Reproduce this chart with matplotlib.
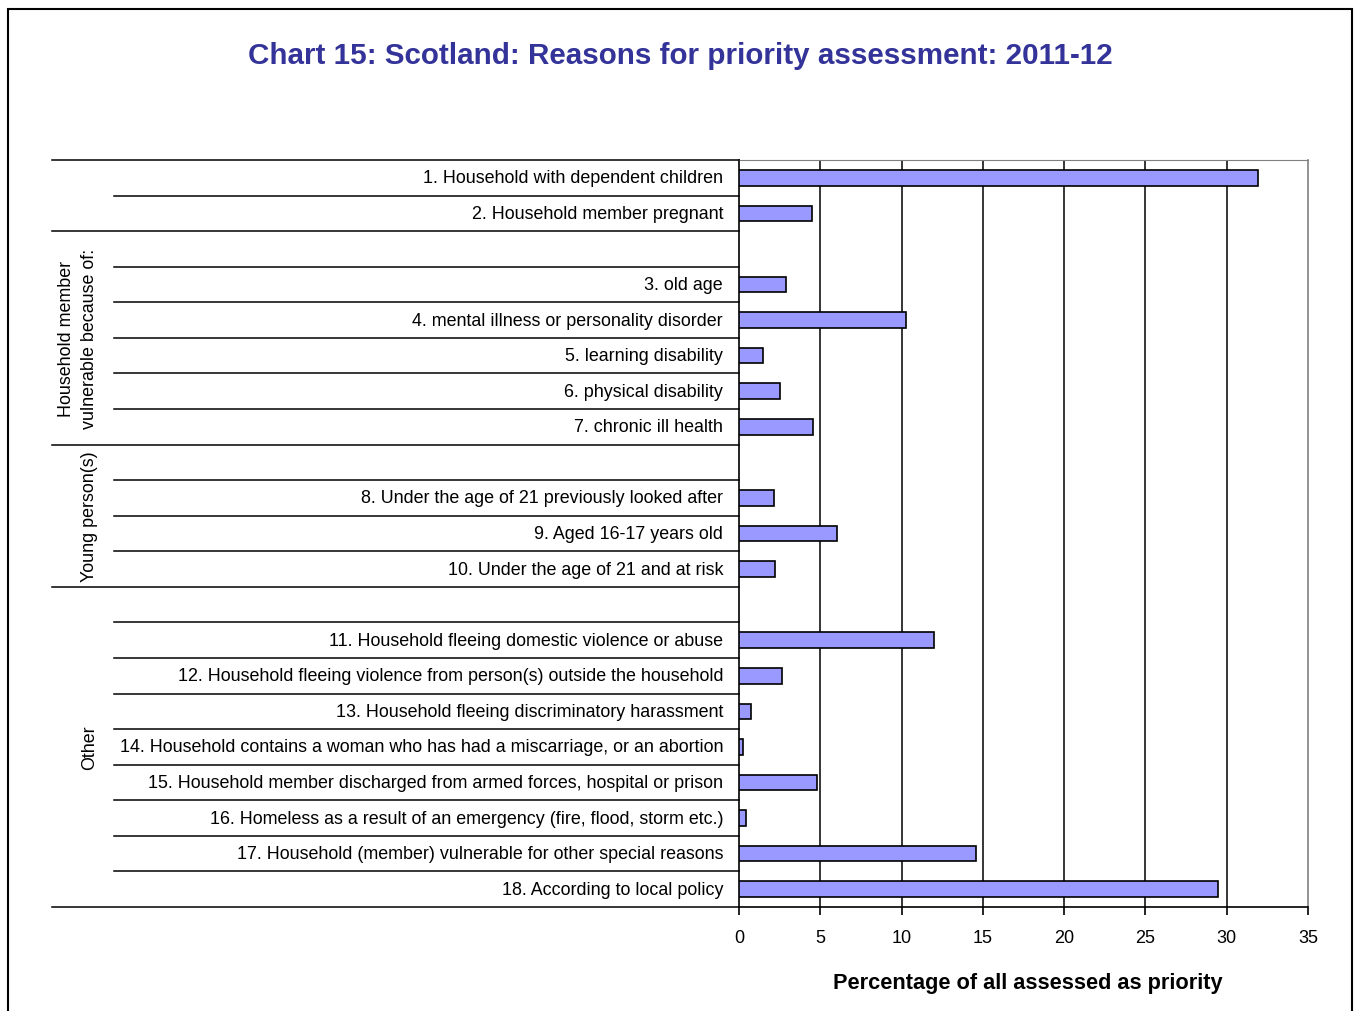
import matplotlib
matplotlib.use("Agg")
import matplotlib.pyplot as plt
from matplotlib.lines import Line2D
from matplotlib.patches import Rectangle
from matplotlib.transforms import blended_transform_factory

plt.rcParams["font.family"] = ["Liberation Sans", "DejaVu Sans"]

# ---------- data (rows top to bottom; None = spacer row) ----------
labels = [
    "1. Household with dependent children",
    "2. Household member pregnant",
    None,
    "3. old age",
    "4. mental illness or personality disorder",
    "5. learning disability",
    "6. physical disability",
    "7. chronic ill health",
    None,
    "8. Under the age of 21 previously looked after",
    "9. Aged 16-17 years old",
    "10. Under the age of 21 and at risk",
    None,
    "11. Household fleeing domestic violence or abuse",
    "12. Household fleeing violence from person(s) outside the household",
    "13. Household fleeing discriminatory harassment",
    "14. Household contains a woman who has had a miscarriage, or an abortion",
    "15. Household member discharged from armed forces, hospital or prison",
    "16. Homeless as a result of an emergency (fire, flood, storm etc.)",
    "17. Household (member) vulnerable for other special reasons",
    "18. According to local policy",
]
values = [31.9, 4.5, None, 2.9, 10.3, 1.45, 2.5, 4.55, None, 2.15, 6.0, 2.2,
          None, 12.0, 2.65, 0.75, 0.25, 4.8, 0.4, 14.6, 29.45]

group_names = ["Household member\nvulnerable because of:", "Young person(s)", "Other"]
group_spans = [(2, 8), (8, 12), (12, 21)]   # row boundaries
group_x = [78 / 1354, 90 / 1354, 90 / 1354]  # figure x of rotated label
major_breaks = [0, 2, 8, 12, 21]             # separators drawn full width

title = "Chart 15: Scotland: Reasons for priority assessment: 2011-12"
xlabel = "Percentage of all assessed as priority"
xticks = [0, 5, 10, 15, 20, 25, 30, 35]

W, H = 1354, 1012
fig = plt.figure(figsize=(W / 100, H / 100), dpi=100)

# outer frame (bottom edge runs off the canvas)
fig.add_artist(Rectangle((8 / W, -0.02), (1352 - 8) / W, 1 - 10 / H + 0.02,
                         transform=fig.transFigure, fill=False,
                         edgecolor="black", lw=1.5))

ax = fig.add_axes([739 / W, 1 - 908 / H, (1308 - 739) / W, (908 - 161) / H])
n = len(labels)
rows = [i + 0.5 for i in range(n)]
for y, v in zip(rows, values):
    if v is None:
        continue
    ax.barh(y, v, height=0.44, color="#9999FF", edgecolor="black", lw=1.2,
            zorder=3)

ax.set_ylim(n, 0)
ax.set_xlim(0, 35)
ax.set_xticks(xticks)
ax.set_xticklabels([str(t) for t in xticks], fontsize=13)
ax.set_yticks([])
ax.tick_params(axis="x", direction="out", length=6, width=1.2, pad=10)
for x in xticks[1:-1]:
    ax.axvline(x, color="black", lw=1.1, zorder=1)
ax.spines["left"].set_linewidth(1.2)
ax.spines["bottom"].set_linewidth(1.2)
ax.spines["top"].set_color("#808080")
ax.spines["right"].set_color("#808080")
ax.spines["right"].set_linewidth(1.2)

# category labels and row separators to the left of the plot
trans = blended_transform_factory(fig.transFigure, ax.transData)
for y, lab in zip(rows, labels):
    if lab:
        ax.text(723 / W, y, lab, transform=trans, ha="right", va="center",
                fontsize=12.9)
for b in range(n + 1):
    x0 = 52 / W if b in major_breaks else 114 / W
    fig.add_artist(Line2D([x0, 739 / W], [b, b], transform=trans,
                          color="black", lw=1.1))

for name, (a, b), gx in zip(group_names, group_spans, group_x):
    ax.text(gx, (a + b) / 2, name, transform=trans, rotation=90,
            ha="center", va="center", multialignment="center",
            fontsize=12.9, linespacing=1.45)

fig.text(680 / W, 1 - 56 / H, title, ha="center", va="center",
         fontsize=21.3, fontweight="bold", color="#333399")
fig.text(1028 / W, 1 - 984 / H, xlabel, ha="center", va="center",
         fontsize=15.7, fontweight="bold")

fig.savefig("out.png", dpi=100)
